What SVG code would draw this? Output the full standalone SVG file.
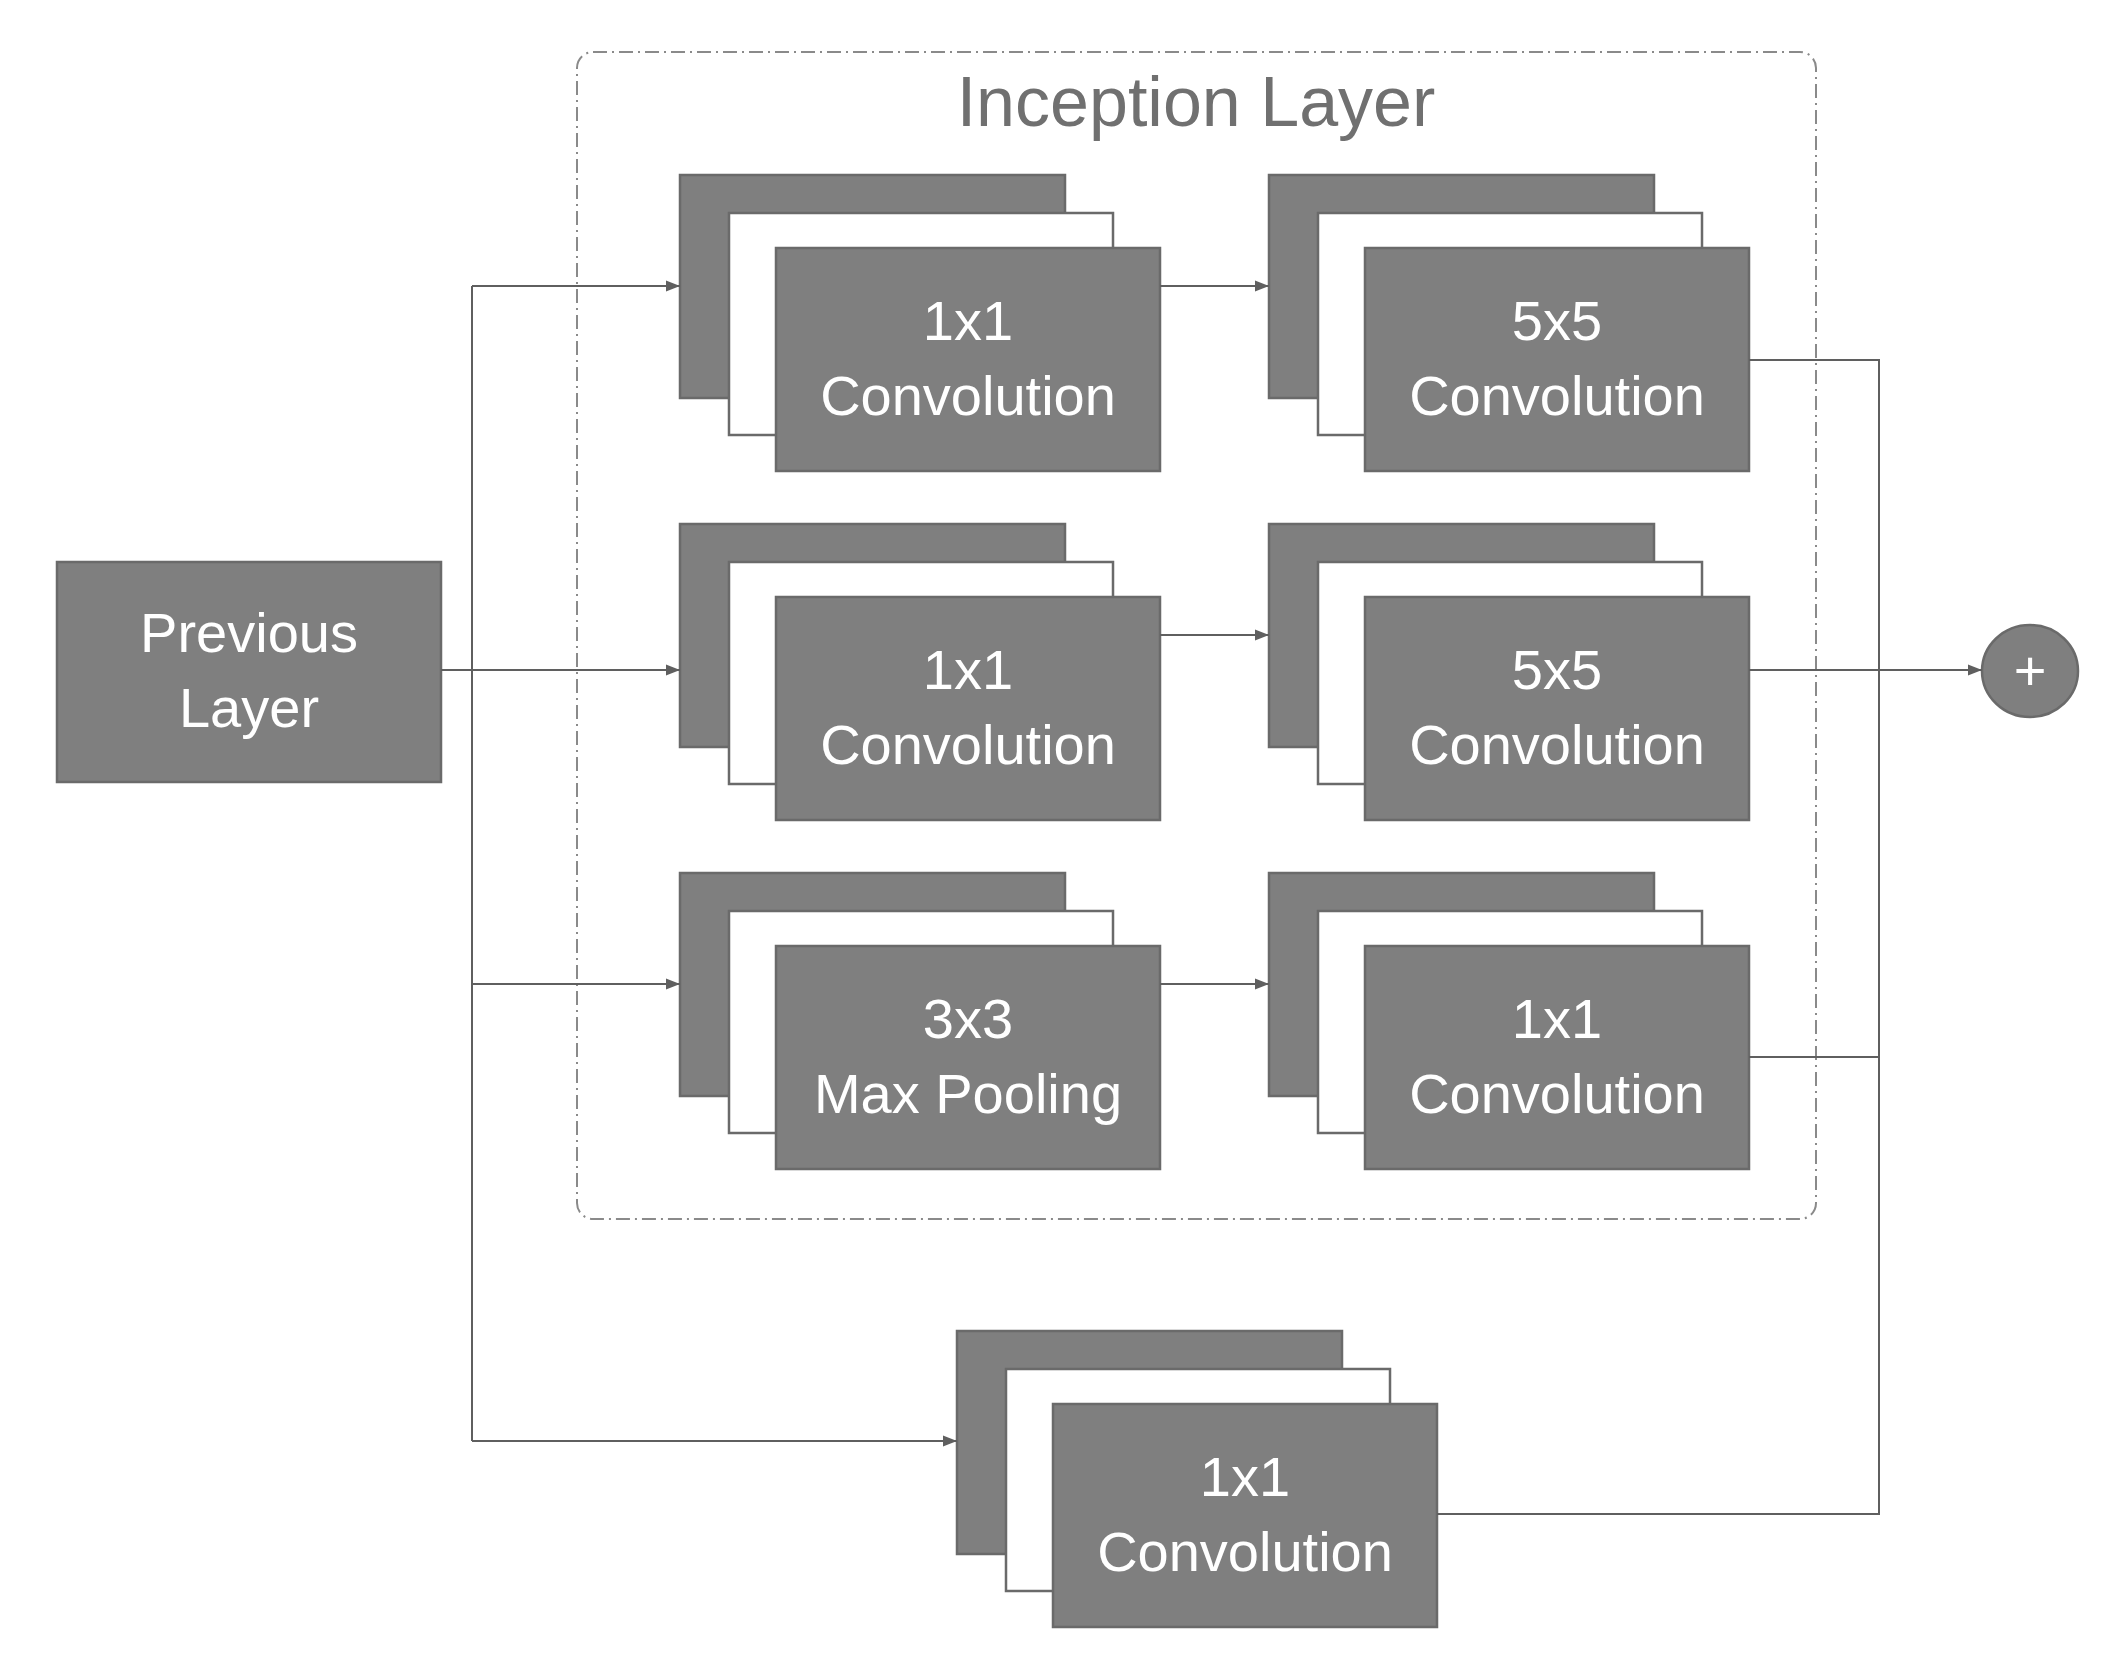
<svg xmlns="http://www.w3.org/2000/svg" width="2128" height="1659" viewBox="0 0 2128 1659">
<style>
.b{fill:#7f7f7f;stroke:#6a6a6a;stroke-width:2.5}
.w{fill:#fff;stroke:#6a6a6a;stroke-width:2.5}
.t{fill:#fff;font-family:"Liberation Sans",Arial,sans-serif;font-size:56px;text-anchor:middle}
.c{fill:none;stroke:#5f5f5f;stroke-width:2}
</style>
<defs>
<marker id="a" viewBox="0 0 10 10" refX="10" refY="5" markerWidth="14" markerHeight="14" markerUnits="userSpaceOnUse" orient="auto"><path d="M0,1L10,5L0,9Z" fill="#5f5f5f"/></marker>
<g id="stk">
<rect class="b" x="0" y="0" width="385" height="223"/>
<rect class="w" x="49" y="38" width="384" height="222"/>
<rect class="b" x="96" y="73" width="384" height="223"/>
</g>
</defs>
<rect x="577" y="52" width="1239" height="1167" rx="16" fill="none" stroke="#8a8a8a" stroke-width="2" stroke-dasharray="14,5,2,5"/>
<text x="1196" y="126" font-family="Liberation Sans,Arial,sans-serif" font-size="70" fill="#707070" text-anchor="middle">Inception Layer</text>
<g id="prev"><rect class="b" x="57" y="562" width="384" height="220"/><text class="t" x="249" y="652">Previous</text><text class="t" x="249" y="727">Layer</text></g>
<g id="n11"><use href="#stk" x="680" y="175"/><text class="t" x="968" y="340">1x1</text><text class="t" x="968" y="415">Convolution</text></g>
<g id="n12"><use href="#stk" x="1269" y="175"/><text class="t" x="1557" y="340">5x5</text><text class="t" x="1557" y="415">Convolution</text></g>
<g id="n21"><use href="#stk" x="680" y="524"/><text class="t" x="968" y="689">1x1</text><text class="t" x="968" y="764">Convolution</text></g>
<g id="n22"><use href="#stk" x="1269" y="524"/><text class="t" x="1557" y="689">5x5</text><text class="t" x="1557" y="764">Convolution</text></g>
<g id="n31"><use href="#stk" x="680" y="873"/><text class="t" x="968" y="1038">3x3</text><text class="t" x="968" y="1113">Max Pooling</text></g>
<g id="n32"><use href="#stk" x="1269" y="873"/><text class="t" x="1557" y="1038">1x1</text><text class="t" x="1557" y="1113">Convolution</text></g>
<g id="n4"><use href="#stk" x="957" y="1331"/><text class="t" x="1245" y="1496">1x1</text><text class="t" x="1245" y="1571">Convolution</text></g>
<g id="plus"><ellipse cx="2030" cy="671" rx="48" ry="46" class="b"/><text class="t" x="2030" y="690" font-size="48">+</text></g>
<g id="connectors">
<path class="c" d="M472,286V1441"/>
<path class="c" d="M472,286H680" marker-end="url(#a)"/>
<path class="c" d="M441,670H680" marker-end="url(#a)"/>
<path class="c" d="M472,984H680" marker-end="url(#a)"/>
<path class="c" d="M472,1441H957" marker-end="url(#a)"/>
<path class="c" d="M1160,286H1269" marker-end="url(#a)"/>
<path class="c" d="M1160,635H1269" marker-end="url(#a)"/>
<path class="c" d="M1160,984H1269" marker-end="url(#a)"/>
<path class="c" d="M1749,360H1879V1514H1437"/>
<path class="c" d="M1749,1057H1879"/>
<path class="c" d="M1749,670H1982" marker-end="url(#a)"/>
</g>
</svg>
